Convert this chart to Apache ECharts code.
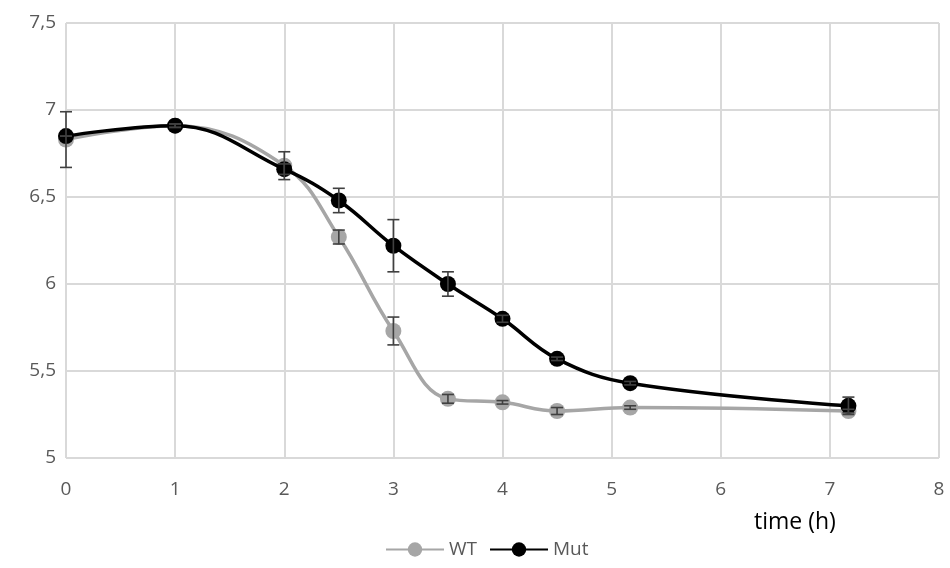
<!DOCTYPE html>
<html>
<head>
<meta charset="utf-8">
<script src="https://cdn.jsdelivr.net/npm/echarts@6/dist/echarts.min.js"></script>
<style>html,body{margin:0;padding:0;background:#fff}#c{width:950px;height:568px}</style>
</head>
<body>
<div id="c"></div>
<script>
const timeH = [0, 1, 2, 2.5, 3, 3.5, 4, 4.5, 5.17, 7.17];
const wtValues = [6.83, 6.91, 6.68, 6.27, 5.73, 5.34, 5.32, 5.27, 5.29, 5.27];
const mutValues = [6.85, 6.91, 6.66, 6.48, 6.22, 6.00, 5.80, 5.57, 5.43, 5.30];
const wtErr = [0.16, 0.01, 0.08, 0.04, 0.08, 0.025, 0.01, 0.02, 0.01, 0.01];
const mutErr = [0.0, 0.01, 0.03, 0.07, 0.15, 0.07, 0.02, 0.01, 0.01, 0.05];
const xTicks = [0, 1, 2, 3, 4, 5, 6, 7, 8];
const yTicks = [5, 5.5, 6, 6.5, 7, 7.5];

const chart = echarts.init(document.getElementById('c'));
const font = '"Open Sans", "Noto Sans", sans-serif';

function pairs(vals) { return timeH.map((t, i) => [t, vals[i]]); }
function errData(vals, errs) { return timeH.map((t, i) => [t, vals[i] - errs[i], vals[i] + errs[i]]); }

function errRender(params, api) {
  const x = api.value(0);
  const lo = api.coord([x, api.value(1)]);
  const hi = api.coord([x, api.value(2)]);
  const hw = 6;
  const st = { stroke: '#404040', lineWidth: 1.6 };
  return {
    type: 'group',
    children: [
      { type: 'line', shape: { x1: lo[0], y1: lo[1], x2: hi[0], y2: hi[1] }, style: st },
      { type: 'line', shape: { x1: lo[0] - hw, y1: lo[1], x2: lo[0] + hw, y2: lo[1] }, style: st },
      { type: 'line', shape: { x1: hi[0] - hw, y1: hi[1], x2: hi[0] + hw, y2: hi[1] }, style: st }
    ]
  };
}

chart.setOption({
  animation: false,
  grid: { left: 66, right: 11, top: 23, bottom: 110 },
  legend: {
    data: ['WT', 'Mut'],
    left: 380,
    top: 535,
    itemWidth: 58,
    itemHeight: 18,
    itemGap: 12,
    textStyle: { fontFamily: font, fontSize: 19, color: '#595959' }
  },
  graphic: [{
    type: 'text', left: 754, top: 511,
    style: { text: 'time (h)', fontFamily: font, fontSize: 23, fill: '#000' }
  }],
  xAxis: {
    type: 'value', min: 0, max: 8, interval: 1,
    axisLine: { show: false },
    axisTick: { show: false },
    splitLine: { show: true, lineStyle: { color: '#d9d9d9', width: 2 } },
    axisLabel: { fontFamily: font, fontSize: 19, color: '#595959', margin: 22,
      formatter: v => xTicks.includes(v) ? String(v) : '' }
  },
  yAxis: {
    type: 'value', min: 5, max: 7.5, interval: 0.5,
    axisLine: { show: false },
    axisTick: { show: false },
    splitLine: { show: true, lineStyle: { color: '#d9d9d9', width: 2 } },
    axisLabel: { fontFamily: font, fontSize: 19, color: '#595959', margin: 10,
      formatter: v => yTicks.includes(v) ? String(v).replace('.', ',') : '' }
  },
  series: [
    {
      name: 'WT', type: 'line', data: pairs(wtValues), smooth: 0.4,
      symbol: 'circle', symbolSize: 16,
      lineStyle: { color: '#a6a6a6', width: 3.5 },
      itemStyle: { color: '#a6a6a6' }, z: 2
    },
    {
      name: 'Mut', type: 'line', data: pairs(mutValues), smooth: 0.4,
      symbol: 'circle', symbolSize: 16,
      lineStyle: { color: '#000000', width: 3.5 },
      itemStyle: { color: '#000000' }, z: 3
    },
    { type: 'custom', renderItem: errRender, data: errData(wtValues, wtErr), z: 4, silent: true },
    { type: 'custom', renderItem: errRender, data: errData(mutValues, mutErr), z: 4, silent: true }
  ]
});
</script>
</body>
</html>
